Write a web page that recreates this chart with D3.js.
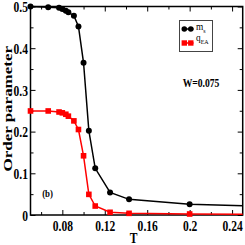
<!DOCTYPE html>
<html>
<head>
<meta charset="utf-8">
<script src="https://d3js.org/d3.v7.min.js"></script>
<style>
  body { margin:0; background:#fff; }
  svg text { font-family: "Liberation Serif", "Times New Roman", serif; font-weight: bold; fill: #000; }
  .axis line { stroke: #000; stroke-width: 1; }
</style>
</head>
<body>
<script>
// temperatures (1/T = 20, 15, 13, 12.5, 12, 11.67, 11, 10.5, 10, 9.5, 9, 8, 7, 5, 3)
var temps = [0.05, 0.0667, 0.0769, 0.08, 0.0833, 0.0857, 0.0909, 0.0952, 0.1, 0.105, 0.111, 0.125, 0.1429, 0.2, 0.3333];
var ms    = [0.500, 0.498, 0.497, 0.494, 0.490, 0.486, 0.478, 0.452, 0.365, 0.202, 0.112, 0.054, 0.0375, 0.0256, 0.016];
var qea   = [0.2495, 0.2495, 0.247, 0.245, 0.2416, 0.237, 0.2257, 0.205, 0.142, 0.0495, 0.0215, 0.0065, 0.004, 0.0024, 0.0015];

var xTicks = [0.08, 0.12, 0.16, 0.2, 0.24];
var xTickLabels = ["0.08", "0.12", "0.16", "0.2", "0.24"];
var xMinor = [0.06, 0.10, 0.14, 0.18, 0.22];
var yTicks = [0, 0.1, 0.2, 0.3, 0.4, 0.5];
var yTickLabels = ["0", "0.1", "0.2", "0.3", "0.4", "0.5"];
var yMinor = [0.05, 0.15, 0.25, 0.35, 0.45];

var width = 245, height = 245;
var margin = {top: 6.5, right: 2.3, bottom: 30, left: 30.5};
var sx = 0.77; // glyphs in the picture are narrow

var svg = d3.select("body").append("svg")
    .attr("width", width)
    .attr("height", height);

svg.append("rect").attr("width", width).attr("height", height).attr("fill", "#fff");

var x = d3.scaleLinear()
    .domain([0.05, 0.25])
    .range([margin.left, width - margin.right]);

var y = d3.scaleLinear()
    .domain([0, 0.5])
    .range([height - margin.bottom, margin.top]);

var x0 = x.range()[0], x1 = x.range()[1];
var y0 = y.range()[0], y1 = y.range()[1];

// ticks, all pointing inside
function addAxis(axis, tx, ty) {
  var g = svg.append("g")
      .attr("class", "axis")
      .attr("transform", "translate(" + tx + "," + ty + ")")
      .call(axis);
  g.select(".domain").remove();
  return g;
}

var bottom = addAxis(d3.axisBottom(x).tickValues(xTicks)
    .tickFormat(function(d, i) { return xTickLabels[i]; })
    .tickSizeInner(-5).tickSizeOuter(0).tickPadding(5.4), 0, y0);
bottom.selectAll("text")
    .style("font-size", "15px")
    .attr("transform", "scale(" + sx + ",1)");

addAxis(d3.axisBottom(x).tickValues(xMinor).tickFormat("")
    .tickSizeInner(-3).tickSizeOuter(0), 0, y0);
addAxis(d3.axisTop(x).tickValues(xTicks).tickFormat("")
    .tickSizeInner(-5).tickSizeOuter(0), 0, y1);
addAxis(d3.axisTop(x).tickValues(xMinor).tickFormat("")
    .tickSizeInner(-3).tickSizeOuter(0), 0, y1);

var left = addAxis(d3.axisLeft(y).tickValues(yTicks)
    .tickFormat(function(d, i) { return yTickLabels[i]; })
    .tickSizeInner(-5).tickSizeOuter(0), x0, 0);
left.selectAll("text")
    .style("font-size", "15px")
    .attr("x", -2.6 / sx)
    .attr("dy", "0.34em")
    .attr("transform", "scale(" + sx + ",1)");

addAxis(d3.axisLeft(y).tickValues(yMinor).tickFormat("")
    .tickSizeInner(-3).tickSizeOuter(0), x0, 0);
addAxis(d3.axisRight(y).tickValues(yTicks).tickFormat("")
    .tickSizeInner(-5).tickSizeOuter(0), x1, 0);
addAxis(d3.axisRight(y).tickValues(yMinor).tickFormat("")
    .tickSizeInner(-3).tickSizeOuter(0), x1, 0);

// frame
svg.append("rect")
    .attr("x", x0).attr("y", y1)
    .attr("width", x1 - x0).attr("height", y0 - y1)
    .attr("fill", "none")
    .attr("stroke", "#000")
    .attr("stroke-width", 1.5);

// clip on the right so the last segment stops at the frame
svg.append("clipPath").attr("id", "clip")
  .append("rect")
    .attr("x", 0).attr("y", 0)
    .attr("width", x1).attr("height", height);

var plot = svg.append("g").attr("clip-path", "url(#clip)");

var line = d3.line()
    .x(function(d) { return x(d[0]); })
    .y(function(d) { return y(d[1]); });

var msPts = temps.map(function(t, i) { return [t, ms[i]]; });
var qPts = temps.map(function(t, i) { return [t, qea[i]]; });

plot.append("path")
    .datum(msPts)
    .attr("d", line)
    .attr("fill", "none")
    .attr("stroke", "#000")
    .attr("stroke-width", 1.5);

plot.selectAll("circle.ms").data(msPts).enter()
  .append("circle")
    .attr("class", "ms")
    .attr("cx", function(d) { return x(d[0]); })
    .attr("cy", function(d) { return y(d[1]); })
    .attr("r", 3)
    .attr("fill", "#000");

plot.append("path")
    .datum(qPts)
    .attr("d", line)
    .attr("fill", "none")
    .attr("stroke", "#ff0000")
    .attr("stroke-width", 1.5);

plot.selectAll("rect.q").data(qPts).enter()
  .append("rect")
    .attr("class", "q")
    .attr("x", function(d) { return x(d[0]) - 2.8; })
    .attr("y", function(d) { return y(d[1]) - 2.8; })
    .attr("width", 5.6)
    .attr("height", 5.6)
    .attr("fill", "#ff0000");

// axis titles
svg.append("text")
    .attr("transform", "translate(" + ((x0 + x1) / 2 - 3) + ",243) scale(" + sx + ",1)")
    .attr("text-anchor", "middle")
    .style("font-size", "15px")
    .text("T");

svg.append("text")
    .attr("transform", "translate(12," + ((y0 + y1) / 2 - 2) + ") rotate(-90) scale(1," + sx + ")")
    .attr("text-anchor", "middle")
    .style("font-size", "17px")
    .text("Order parameter");

// annotations
svg.append("text")
    .attr("transform", "translate(201,87) scale(" + sx + ",1)")
    .attr("text-anchor", "middle")
    .style("font-size", "12.5px")
    .text("W=0.075");

svg.append("text")
    .attr("transform", "translate(47.5,197) scale(0.8,1)")
    .attr("text-anchor", "middle")
    .style("font-size", "11px")
    .text("(b)");

// legend
var legend = svg.append("g");
legend.append("rect")
    .attr("x", 179.5).attr("y", 20.5)
    .attr("width", 33).attr("height", 31)
    .attr("fill", "#fff")
    .attr("stroke", "#444")
    .attr("stroke-width", 1);

legend.append("line")
    .attr("x1", 182).attr("x2", 193.5)
    .attr("y1", 29).attr("y2", 29)
    .attr("stroke", "#000").attr("stroke-width", 1.5);
legend.selectAll("circle").data([184.3, 190.8]).enter()
  .append("circle")
    .attr("cx", function(d) { return d; })
    .attr("cy", 29)
    .attr("r", 2.8)
    .attr("fill", "#000");

legend.append("line")
    .attr("x1", 182).attr("x2", 193.5)
    .attr("y1", 43).attr("y2", 43)
    .attr("stroke", "#ff0000").attr("stroke-width", 1.5);
legend.selectAll("rect.sym").data([184.3, 190.8]).enter()
  .append("rect")
    .attr("class", "sym")
    .attr("x", function(d) { return d - 2.7; })
    .attr("y", 40.3)
    .attr("width", 5.4).attr("height", 5.4)
    .attr("fill", "#ff0000");

var t1 = legend.append("text")
    .attr("transform", "translate(196,30) scale(0.85,1)")
    .style("font-size", "11px")
    .style("font-weight", "normal");
t1.append("tspan").text("m");
t1.append("tspan").attr("dy", 3).style("font-size", "7px").text("s");

var t2 = legend.append("text")
    .attr("transform", "translate(196,41) scale(0.85,1)")
    .style("font-size", "11px")
    .style("font-weight", "normal");
t2.append("tspan").text("q");
t2.append("tspan").attr("dy", 3).style("font-size", "7px").text("EA");
</script>
</body>
</html>
